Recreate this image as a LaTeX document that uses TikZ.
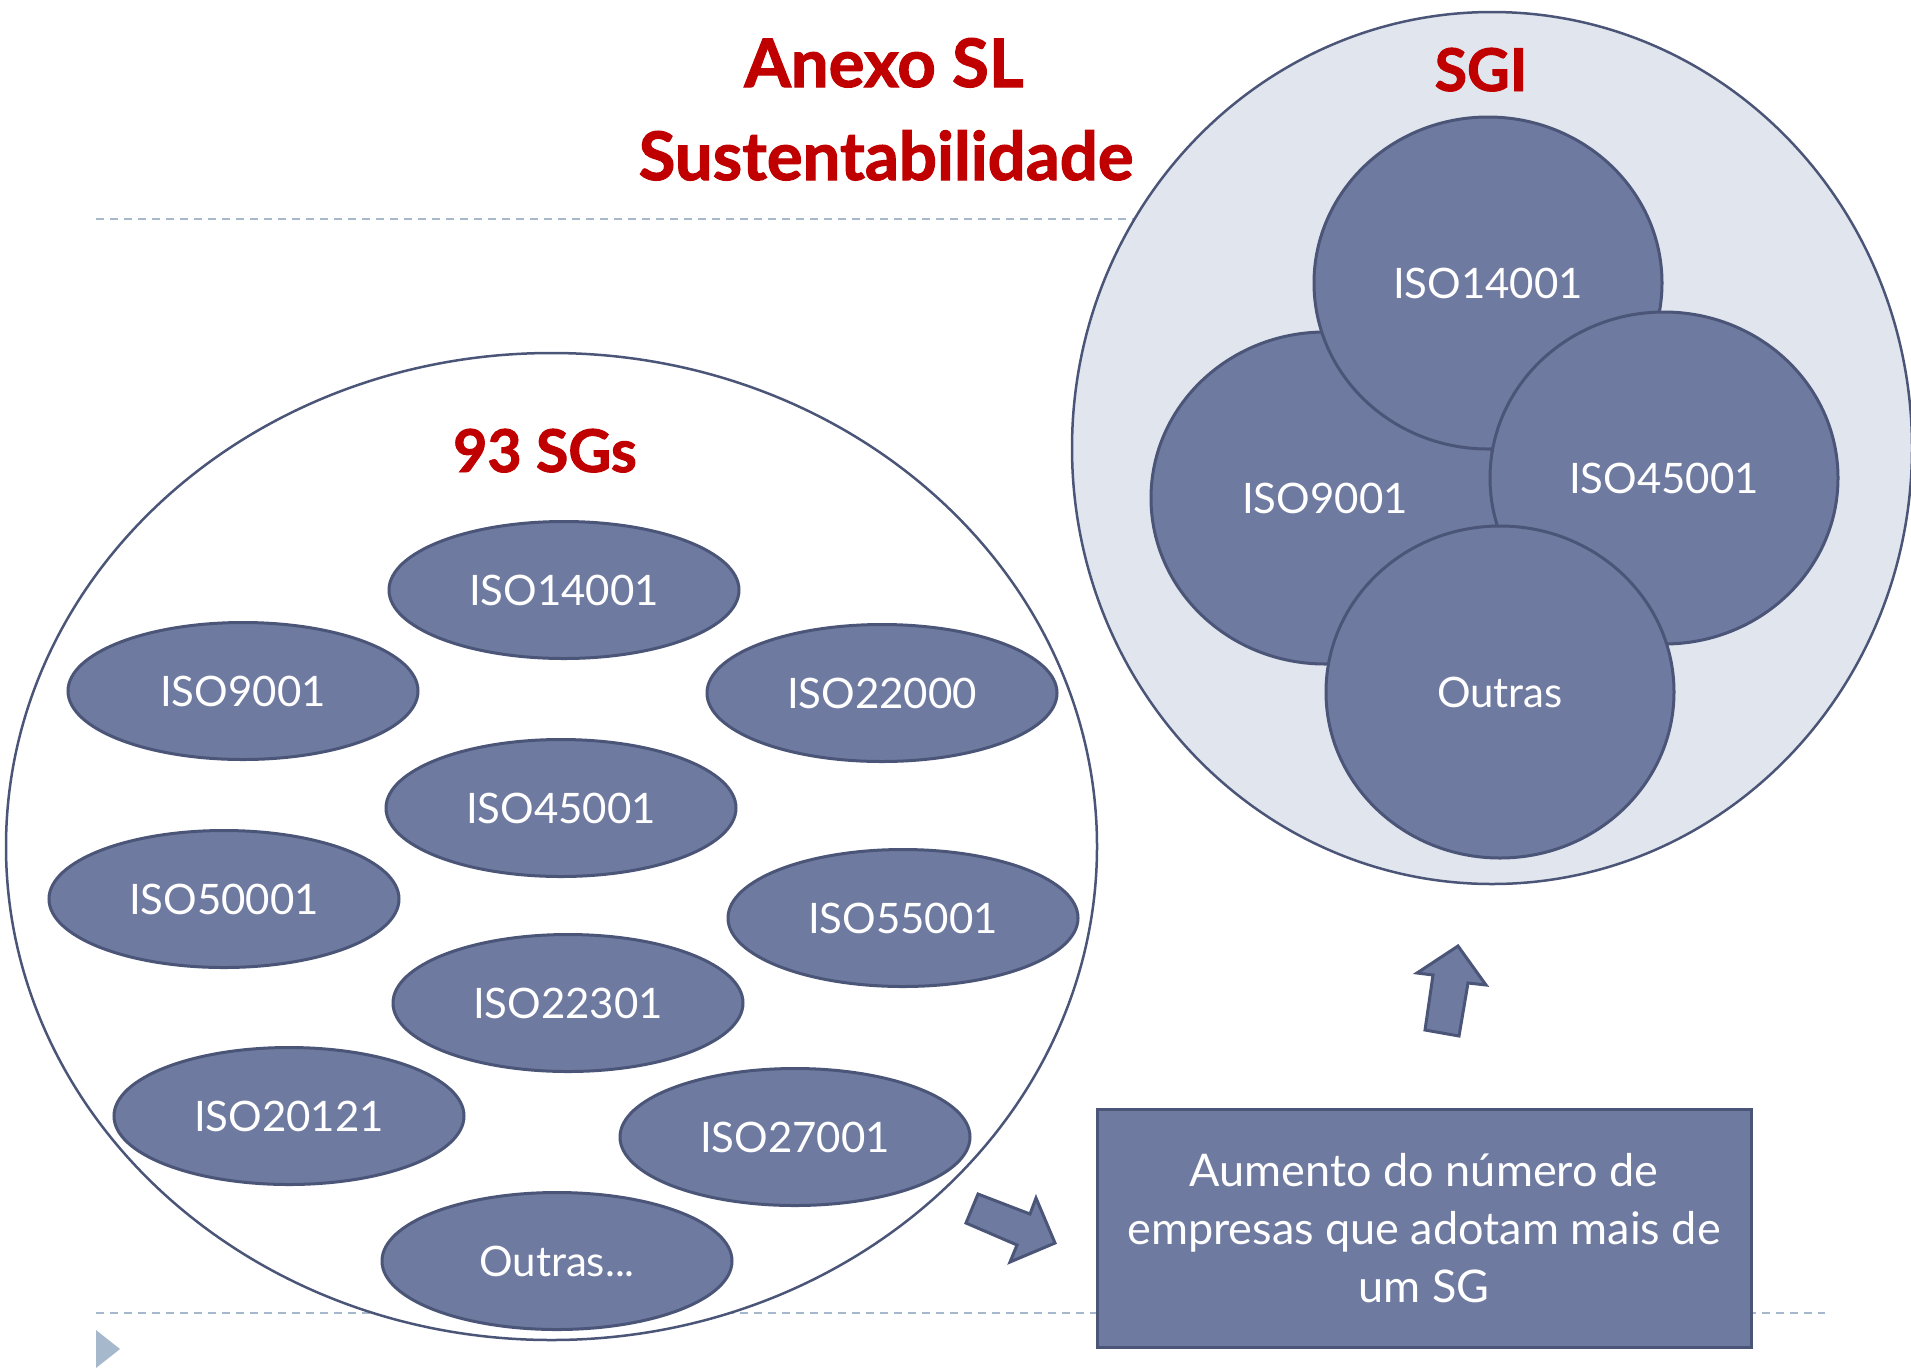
\documentclass[tikz,border=0pt]{standalone}
\usepackage{fontspec}
\setmainfont{Lato}
\newfontfamily\heavyfont{Lato}[BoldFeatures={FakeBold=1.6}]
\usetikzlibrary{shapes.geometric}
\definecolor{sgfill}{HTML}{6F7AA0}
\definecolor{sgline}{HTML}{4B5578}
\definecolor{sgilight}{HTML}{E1E5ED}
\definecolor{titred}{HTML}{C00000}
\definecolor{dashblue}{HTML}{A5B8CC}
\tikzset{
  sg/.style={ellipse, draw=sgline, fill=sgfill, line width=3pt, inner sep=0pt,
    minimum width=350pt, minimum height=137pt, text=white, font=\fontsize{42}{50}\selectfont},
  sgc/.style={ellipse, draw=sgline, fill=sgfill, line width=3pt, inner sep=0pt,
    minimum width=348pt, minimum height=332pt, text=white, font=\fontsize{42}{50}\selectfont},
  ttl/.style={anchor=base, text=titred, font=\heavyfont\fontsize{67}{72}\selectfont\bfseries},
  ttlb/.style={anchor=base, text=titred, font=\heavyfont\fontsize{59}{64}\selectfont\bfseries},
  sep/.style={draw=dashblue, line width=2.5pt, dash pattern=on 8pt off 6pt},
  blockarrow/.style={draw=sgline, fill=sgfill, line width=3pt, line join=miter},
  infobox/.style={rectangle, draw=sgline, fill=sgfill, line width=3pt, inner sep=0pt,
    minimum width=654pt, minimum height=238pt, text=white, align=center,
    font=\fontsize{45}{58}\selectfont}
}
\begin{document}
\begin{tikzpicture}[x=1pt,y=-1pt]
\useasboundingbox (0,0) rectangle (1911,1369);
% separators
\coordinate (t1) at (96,219); \coordinate (t2) at (1825,219);
\coordinate (b1) at (96,1313); \coordinate (b2) at (1825,1313);
\draw[sep] (t1) -- (t2);
\draw[sep] (b1) -- (b2);
% big containers
\node[ellipse, draw=sgline, fill=white, line width=2.5pt, inner sep=0pt,
  minimum width=1091pt, minimum height=987pt] (left) at (551.5,846.5) {};
\node[ellipse, draw=sgline, fill=sgilight, line width=2.5pt, inner sep=0pt,
  minimum width=840pt, minimum height=872pt] (right) at (1492,448) {};
% titles
\node[ttl] (anexo) at (884,87) {Anexo SL};
\node[ttl] (sust) at (886,180) {Sustentabilidade};
\node[ttlb] (sgs) at (545,472) {93 SGs};
\node[ttlb] (sgi) at (1481,91) {SGI};
% small ellipses
\node[sg] (e14001) at (564,590) {ISO14001};
\node[sg] (e9001) at (243,691) {ISO9001};
\node[sg] (e22000) at (882,693) {ISO22000};
\node[sg] (e45001) at (561,808) {ISO45001};
\node[sg] (e50001) at (224,899) {ISO50001};
\node[sg] (e55001) at (903,918) {ISO55001};
\node[sg] (e22301) at (568,1003) {ISO22301};
\node[sg] (e20121) at (289,1116) {ISO20121};
\node[sg] (e27001) at (795,1137) {ISO27001};
\node[sg] (eoutras) at (557,1261) {Outras...};
% SGI circles
\node[sgc] (c9001) at (1325,498) {ISO9001};
\node[sgc] (c14001) at (1488,283) {ISO14001};
\node[sgc] (c45001) at (1664,478) {ISO45001};
\node[sgc] (coutras) at (1500,692) {Outras};
% info box
\node[infobox] (box) at (1424,1228) {Aumento do número de\\empresas que adotam mais de\\um SG};
% block arrows
\draw[blockarrow] (978,1194) -- (1030,1214) -- (1036,1198) -- (1055,1243) -- (1010,1262) -- (1017,1245) -- (966,1223) -- cycle;
\draw[blockarrow] (1458,946) -- (1486,985) -- (1468,983) -- (1459,1036) -- (1425,1030) -- (1433,975) -- (1417,973) -- cycle;
% bullet triangle
\fill[dashblue] (96,1330) -- (120,1349) -- (96,1368) -- cycle;
\end{tikzpicture}
\end{document}
